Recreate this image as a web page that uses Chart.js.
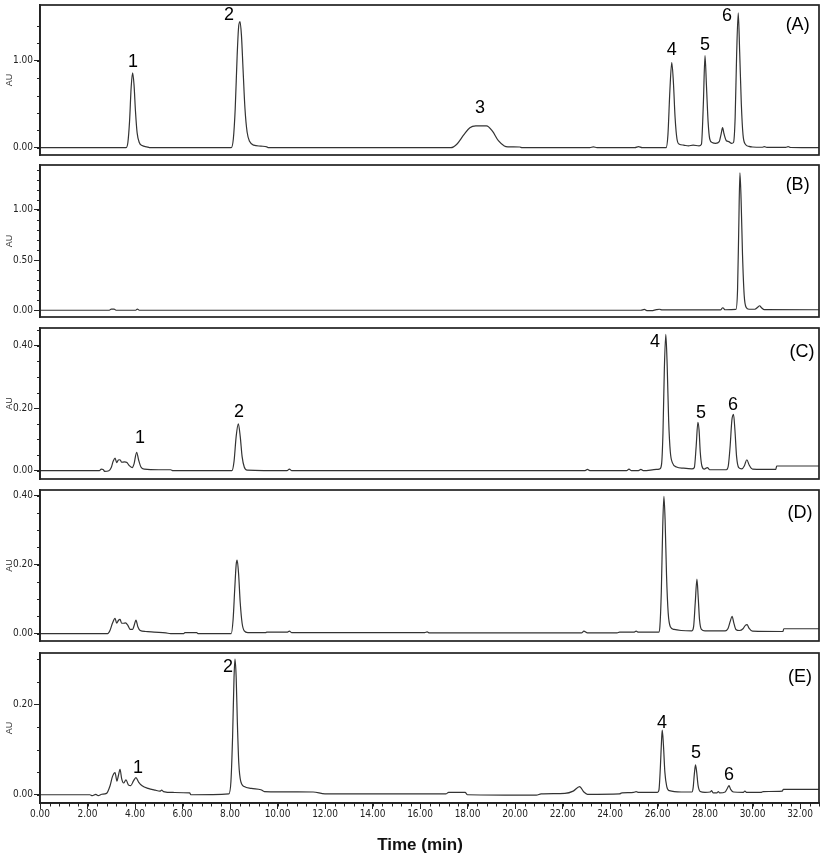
<!DOCTYPE html>
<html>
<head>
<meta charset="utf-8">
<script src="https://cdn.jsdelivr.net/npm/chart.js@4.4.1/dist/chart.umd.min.js"></script>
<style>
  html, body { margin: 0; padding: 0; background: #fff; }
  #wrap { position: relative; width: 827px; height: 856px; overflow: hidden; }
  .panel { position: absolute; left: 0; width: 827px; }
  #xtitle { position: absolute; left: 420px; top: 835px; transform: translateX(-50%);
            font: bold 17px "Liberation Sans", Arial, sans-serif; color: #111; white-space: nowrap; line-height: 20px; }
</style>
</head>
<body>
<div id="wrap">
  <div class="panel" style="top:2px;height:156px"><canvas id="cA"></canvas></div>
  <div class="panel" style="top:162px;height:158px"><canvas id="cB"></canvas></div>
  <div class="panel" style="top:325px;height:157px"><canvas id="cC"></canvas></div>
  <div class="panel" style="top:487px;height:157px"><canvas id="cD"></canvas></div>
  <div class="panel" style="top:650px;height:206px"><canvas id="cE"></canvas></div>
  <div id="xtitle">Time (min)</div>
</div>
<script>
// ---------------- DATA (time in min, absorbance in AU) ----------------
const traceA = [[0,0],[3.62,0],[3.7,0.06],[3.77,0.3],[3.84,0.7],[3.9,0.86],[3.96,0.72],[4.02,0.42],[4.09,0.17],[4.18,0.06],[4.3,0.025],[4.5,0.01],[4.65,0],
  [8.05,0],[8.14,0.1],[8.22,0.45],[8.3,1.05],[8.36,1.38],[8.42,1.45],[8.48,1.3],[8.55,0.9],[8.63,0.45],[8.72,0.18],[8.83,0.07],[9.0,0.03],[9.3,0.018],[9.55,0.01],[9.62,0],
  [17.3,0],[17.55,0.04],[17.85,0.15],[18.1,0.23],[18.35,0.25],[18.8,0.25],[19.05,0.19],[19.3,0.08],[19.55,0.02],[19.7,0.01],[20.2,0.008],[20.3,0],
  [23.15,0],[23.3,0.01],[23.45,0],[25.05,0],[25.2,0.012],[25.35,0],
  [26.36,0],[26.44,0.15],[26.52,0.65],[26.6,0.98],[26.67,0.75],[26.74,0.35],[26.82,0.1],[26.92,0.04],[27.1,0.03],[27.3,0.02],[27.5,0.03],[27.75,0.02],
  [27.85,0.04],[27.93,0.5],[28.0,1.06],[28.06,0.72],[28.13,0.3],[28.2,0.1],[28.3,0.06],[28.45,0.05],
  [28.6,0.07],[28.68,0.16],[28.74,0.23],[28.8,0.16],[28.9,0.08],[29.0,0.07],[29.12,0.05],
  [29.2,0.06],[29.27,0.35],[29.33,1.05],[29.4,1.55],[29.46,1.1],[29.53,0.5],[29.6,0.15],[29.7,0.04],[29.85,0.015],[30.0,0.008],[30.4,0.005],[30.5,0.012],[30.6,0.003],[31.4,0.003],[31.5,0.012],[31.6,0.002],[32.8,0]];

const traceB = [[0,0],[2.92,0],[3.0,0.012],[3.12,0.012],[3.2,0],[4.03,0],[4.1,0.012],[4.18,0],[25.3,0],[25.45,0.008],[25.55,-0.004],[25.75,-0.004],[25.95,0.006],[26.08,0.01],[26.2,0.003],
  [28.65,0.003],[28.75,0.025],[28.85,0.005],[29.3,0.008],[29.37,0.2],[29.42,0.8],[29.47,1.37],[29.52,1.1],[29.58,0.55],[29.65,0.15],[29.73,0.03],[29.85,0.01],[30.1,0.01],[30.22,0.03],[30.3,0.045],[30.38,0.025],[30.5,0.006],[32.8,0.005]];

const traceC = [[0,0],[2.5,0],[2.58,0.005],[2.66,0.004],[2.72,-0.002],[2.9,0],[3.0,0.01],[3.08,0.03],[3.16,0.04],[3.23,0.026],[3.3,0.034],[3.37,0.035],[3.44,0.027],[3.55,0.028],[3.66,0.026],[3.76,0.016],[3.88,0.01],[3.96,0.022],[4.07,0.059],[4.15,0.035],[4.25,0.012],[4.4,0.005],[5.0,0.003],[5.5,0.003],[5.6,0],
  [8.08,0],[8.17,0.03],[8.26,0.11],[8.35,0.15],[8.43,0.11],[8.51,0.045],[8.6,0.012],[8.72,0.002],[10.4,0],[10.5,0.005],[10.6,0],
  [22.95,0],[23.05,0.004],[23.15,0],[24.7,0],[24.8,0.005],[24.9,0],[25.2,0],[25.3,0.004],[25.4,0],[25.95,0.004],[26.1,0.006],
  [26.17,0.02],[26.23,0.12],[26.29,0.33],[26.35,0.436],[26.41,0.33],[26.47,0.16],[26.54,0.06],[26.63,0.025],[26.8,0.012],[27.1,0.008],[27.45,0.006],
  [27.55,0.01],[27.63,0.08],[27.7,0.155],[27.75,0.13],[27.8,0.06],[27.87,0.015],[27.97,0.005],[28.1,0.01],[28.2,0.003],[28.9,0.003],
  [28.98,0.015],[29.06,0.08],[29.13,0.16],[29.2,0.18],[29.26,0.13],[29.33,0.045],[29.42,0.01],[29.55,0.006],[29.66,0.016],[29.76,0.035],[29.86,0.018],[30.0,0.005],[30.98,0.004],[31.02,0.015],[32.8,0.015]];

const traceD = [[0,0],[2.85,0],[2.95,0.01],[3.05,0.03],[3.16,0.044],[3.23,0.03],[3.3,0.038],[3.37,0.041],[3.44,0.03],[3.52,0.03],[3.6,0.031],[3.7,0.024],[3.8,0.012],[3.9,0.012],[3.97,0.025],[4.04,0.039],[4.12,0.02],[4.22,0.009],[4.45,0.006],[4.8,0.004],[5.3,0.002],[5.5,0],[6.05,0],[6.1,0.003],[6.6,0.003],[6.65,0],
  [8.05,0],[8.13,0.04],[8.2,0.13],[8.26,0.2],[8.3,0.213],[8.36,0.175],[8.43,0.09],[8.51,0.03],[8.6,0.008],[8.75,0.003],[9.5,0.003],[9.55,0.004],[10.4,0.004],[10.5,0.007],[10.6,0.003],[16.2,0.003],[16.3,0.005],[16.4,0.002],
  [22.8,0.002],[22.9,0.007],[23.05,0.002],[24.3,0.002],[24.4,0.004],[25.0,0.004],[25.1,0.007],[25.2,0.004],[26.05,0.004],
  [26.1,0.02],[26.16,0.12],[26.22,0.31],[26.27,0.398],[26.32,0.33],[26.38,0.17],[26.45,0.06],[26.54,0.02],[26.7,0.012],[27.0,0.009],[27.45,0.008],
  [27.52,0.02],[27.59,0.09],[27.66,0.158],[27.71,0.11],[27.77,0.04],[27.85,0.012],[28.0,0.008],[28.85,0.008],
  [28.97,0.015],[29.06,0.035],[29.14,0.05],[29.21,0.032],[29.3,0.012],[29.45,0.009],[29.6,0.014],[29.7,0.024],[29.77,0.026],[29.86,0.015],[30.0,0.007],[31.28,0.006],[31.32,0.014],[32.8,0.014]];

const traceE = [[0,0],[2.1,0],[2.2,-0.002],[2.35,0.001],[2.45,-0.002],[2.6,0.001],[2.8,0.003],[2.95,0.02],[3.05,0.04],[3.16,0.049],[3.24,0.03],[3.3,0.042],[3.37,0.056],[3.44,0.035],[3.52,0.026],[3.62,0.033],[3.72,0.022],[3.82,0.02],[3.93,0.03],[4.04,0.038],[4.15,0.028],[4.3,0.02],[4.55,0.014],[4.85,0.01],[5.05,0.008],[5.12,0.01],[5.2,0.007],[5.6,0.005],[6.3,0.004],[6.35,0],
  [7.95,0.002],[8.04,0.03],[8.11,0.13],[8.17,0.26],[8.21,0.30],[8.26,0.26],[8.31,0.16],[8.37,0.07],[8.45,0.03],[8.6,0.018],[8.9,0.014],[9.3,0.011],[9.45,0.007],[11.5,0.006],[12.0,0.002],[17.1,0.002],[17.2,0.005],[17.9,0.005],[18.0,0.0],[20.9,-0.001],[21.1,0.002],[22.1,0.003],[22.45,0.008],[22.72,0.018],[22.9,0.006],[23.05,0.001],[24.4,0.002],[24.5,0.004],[25.0,0.005],[25.1,0.007],[25.2,0.005],[26.0,0.005],
  [26.06,0.01],[26.12,0.06],[26.17,0.12],[26.2,0.143],[26.25,0.11],[26.31,0.05],[26.39,0.018],[26.5,0.009],[27.0,0.006],[27.45,0.006],
  [27.5,0.015],[27.55,0.045],[27.6,0.066],[27.65,0.05],[27.71,0.02],[27.8,0.007],[28.0,0.005],[28.22,0.006],[28.28,0.009],[28.34,0.004],[28.5,0.004],[28.56,0.007],[28.62,0.004],[28.85,0.006],[28.95,0.015],[29.01,0.02],[29.08,0.012],[29.2,0.006],[29.6,0.005],[29.68,0.008],[29.76,0.005],[30.35,0.005],[30.45,0.007],[31.25,0.008],[31.3,0.012],[32.8,0.012]];

// axis ranges and ticks
const xRange = [0, 32.8];
const xMajorTicks = [0,2,4,6,8,10,12,14,16,18,20,22,24,26,28,30,32];
const xMinorStep = 0.4;
const yRangeA = [-0.084, 1.641], yMajorA = [0, 1.0], yMinorStepA = 0.2, yMinorTopA = 1.4;
const yRangeB = [-0.067, 1.447], yMajorB = [0, 0.5, 1.0], yMinorStepB = 0.1, yMinorTopB = 1.4;
const yRangeC = [-0.0266, 0.4566], yMajorC = [0, 0.2, 0.4], yMinorStepC = 0.05, yMinorTopC = 0.45;
const yRangeD = [-0.0215, 0.4166], yMajorD = [0, 0.2, 0.4], yMinorStepD = 0.05, yMinorTopD = 0.40;
const yRangeE = [-0.0183, 0.3136], yMajorE = [0, 0.2], yMinorStepE = 0.05, yMinorTopE = 0.30;

// peak / panel annotations: [text, time, AU]
const labelsA = [['1',3.92,0.98],['2',7.96,1.52],['3',18.53,0.46],['4',26.6,1.12],['5',28.0,1.18],['6',28.93,1.51],['(A)',31.9,1.41]];
const labelsB = [['(B)',31.9,1.25]];
const labelsC = [['1',4.21,0.106],['2',8.38,0.189],['4',25.9,0.413],['5',27.83,0.186],['6',29.18,0.211],['(C)',32.08,0.381]];
const labelsD = [['(D)',32.0,0.35]];
const labelsE = [['1',4.13,0.06],['2',7.92,0.282],['4',26.19,0.159],['5',27.62,0.093],['6',29.01,0.044],['(E)',32.0,0.26]];

// ---------------- RENDERING ----------------
const tickFont = '"Liberation Sans Narrow", "Arial Narrow", "DejaVu Sans Condensed", sans-serif';
const ink = '#222';

function steps(top, step) {
  const out = [];
  for (let i = 0; i * step <= top + 1e-9; i++) out.push(+(i * step).toFixed(4));
  return out;
}

const decorPlugin = {
  id: 'decor',
  afterDatasetsDraw(chart, args, opts) {
    const {ctx, chartArea: a, scales} = chart;
    const xs = scales.x, ys = scales.y;
    ctx.save();
    ctx.strokeStyle = ink;
    ctx.lineWidth = 1;
    opts.minorY.forEach(v => {
      const p = Math.round(ys.getPixelForValue(v)) + 0.5;
      ctx.beginPath(); ctx.moveTo(a.left - 3, p); ctx.lineTo(a.left, p); ctx.stroke();
    });
    if (opts.minorX) {
      opts.minorX.forEach(v => {
        const p = Math.round(xs.getPixelForValue(v)) + 0.5;
        ctx.beginPath(); ctx.moveTo(p, a.bottom); ctx.lineTo(p, a.bottom + 3.5); ctx.stroke();
      });
    }
    ctx.lineWidth = 1.7;
    ctx.strokeRect(a.left, a.top, a.right - a.left, a.bottom - a.top);
    ctx.fillStyle = '#000';
    ctx.font = '18px "Liberation Sans", Arial, sans-serif';
    ctx.textAlign = 'center';
    ctx.textBaseline = 'middle';
    opts.labels.forEach(([txt, t, v]) => ctx.fillText(txt, xs.getPixelForValue(t), ys.getPixelForValue(v)));
    ctx.restore();
  }
};

function makePanel(id, trace, yRange, yMajor, yMinorStep, yMinorTop, labels, bottom) {
  const minorY = steps(yMinorTop, yMinorStep);
  const minorX = bottom ? steps(xRange[1], xMinorStep) : null;
  new Chart(document.getElementById(id), {
    type: 'line',
    data: { datasets: [{
      data: trace.map(([x, y]) => ({x, y})),
      borderColor: '#333', borderWidth: 1.2, pointRadius: 0, fill: false,
      cubicInterpolationMode: 'monotone'
    }]},
    options: {
      responsive: true, maintainAspectRatio: false, animation: false, events: [],
      devicePixelRatio: 1,
      layout: { padding: { left: 0, right: 8, top: 3, bottom: bottom ? 0 : 3 } },
      plugins: { legend: { display: false }, tooltip: { enabled: false },
                 decor: { minorY, minorX, labels } },
      scales: {
        x: {
          type: 'linear', min: xRange[0], max: xRange[1], display: bottom,
          afterBuildTicks: s => { s.ticks = xMajorTicks.map(v => ({value: v})); },
          afterFit: s => { s.height = bottom ? 53 : 0; s.paddingLeft = 0; s.paddingRight = 0; },
          ticks: { autoSkip: false, maxRotation: 0, padding: -1, color: ink,
                   font: { family: tickFont, size: 10 }, callback: v => Number(v).toFixed(2) },
          grid: { drawOnChartArea: false, tickLength: 6, tickColor: ink, tickWidth: 1 },
          border: { display: true, color: ink, width: 1.7 }
        },
        y: {
          type: 'linear', min: yRange[0], max: yRange[1],
          afterBuildTicks: s => { s.ticks = yMajor.map(v => ({value: v})); },
          afterFit: s => { s.width = 40; s.paddingTop = 0; s.paddingBottom = 0; },
          ticks: { padding: 1, color: ink, font: { family: tickFont, size: 10 },
                   callback: v => Number(v).toFixed(2) },
          grid: { drawOnChartArea: false, tickLength: 6, tickColor: ink, tickWidth: 1 },
          border: { display: true, color: ink, width: 1.7 },
          title: { display: true, text: 'AU', color: '#333', padding: { top: 4, bottom: 0 },
                   font: { family: '"Liberation Sans", Arial, sans-serif', size: 9 } }
        }
      }
    },
    plugins: [decorPlugin]
  });
}

makePanel('cA', traceA, yRangeA, yMajorA, yMinorStepA, yMinorTopA, labelsA, false);
makePanel('cB', traceB, yRangeB, yMajorB, yMinorStepB, yMinorTopB, labelsB, false);
makePanel('cC', traceC, yRangeC, yMajorC, yMinorStepC, yMinorTopC, labelsC, false);
makePanel('cD', traceD, yRangeD, yMajorD, yMinorStepD, yMinorTopD, labelsD, false);
makePanel('cE', traceE, yRangeE, yMajorE, yMinorStepE, yMinorTopE, labelsE, true);
</script>
</body>
</html>
